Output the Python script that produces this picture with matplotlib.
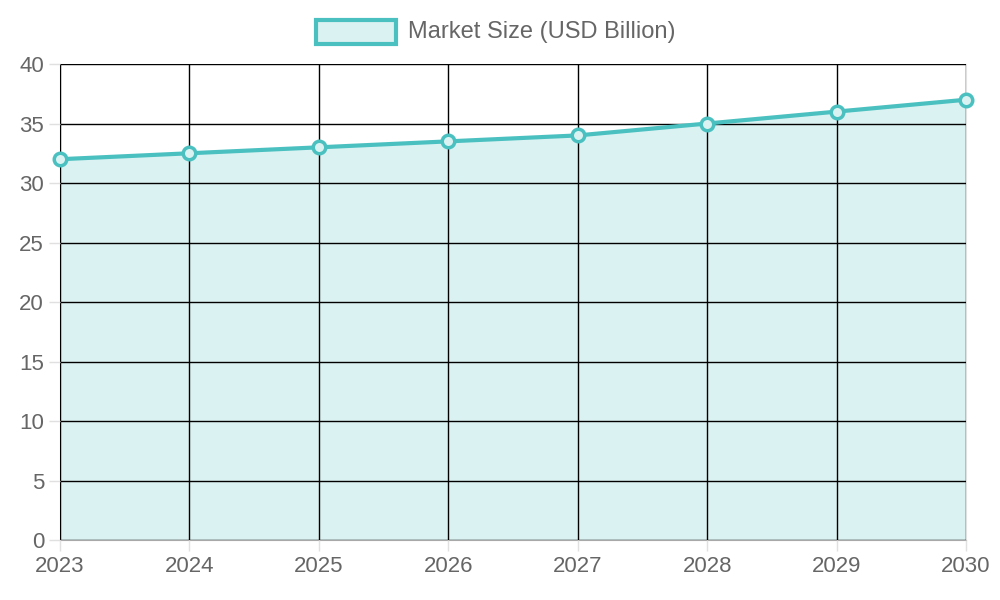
import matplotlib
matplotlib.use("Agg")
import matplotlib.pyplot as plt
from matplotlib.patches import Rectangle

plt.rcParams['font.family'] = ['Liberation Sans', 'DejaVu Sans']

years = [2023, 2024, 2025, 2026, 2027, 2028, 2029, 2030]
market_size = [32, 32.5, 33, 33.5, 34, 35, 36, 37]
y_ticks = [0, 5, 10, 15, 20, 25, 30, 35, 40]

LINE = "#4bc0c0"
FILL = "#dbf2f2"
GRID = "#e0e0e0"
AXIS = "#a8a8a8"
TXT = "#666666"

fig = plt.figure(figsize=(10, 6), dpi=100)
ax = fig.add_axes([0.06, 0.1, 0.906, 0.7933])
ax.fill_between(years, market_size, 0, color=FILL, lw=0, zorder=1)
ax.plot(years, market_size, color=LINE, lw=3, marker="o", ms=9,
        mfc=FILL, mec=LINE, mew=2.5, clip_on=False, zorder=3)
ax.set_xlim(years[0], years[-1])
ax.set_ylim(0, 40)
ax.set_xticks(years)
ax.set_yticks(y_ticks)
ax.set_axisbelow(False)
ax.grid(True, color=(0, 0, 0, 0.1), lw=1, zorder=2)
ax.tick_params(color=GRID, labelcolor=TXT, labelsize=16, length=8, width=1)
for s in ["top", "right"]:
    ax.spines[s].set_color(GRID)
for s in ["left", "bottom"]:
    ax.spines[s].set_color(AXIS)

fig.patches.append(Rectangle((0.316, 1 - 44/600), 0.08, 24/600, transform=fig.transFigure,
                             fc=FILL, ec=LINE, lw=3))
fig.text(0.408, 1 - 32/600, "Market Size (USD Billion)", color=TXT,
         fontsize=17, va="center", ha="left")

fig.savefig("out.png", dpi=100)
